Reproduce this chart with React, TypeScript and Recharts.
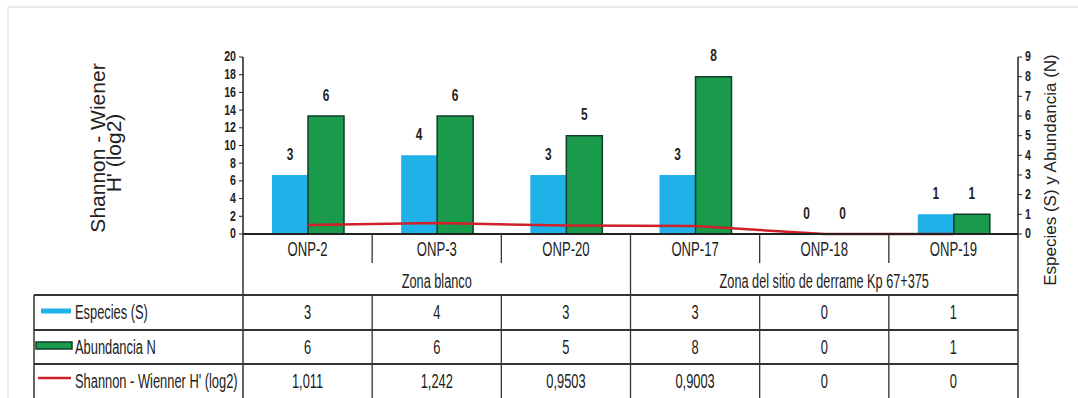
import { ComposedChart, Bar, Line, XAxis, YAxis, LabelList } from 'recharts'

const categories = ['ONP-2', 'ONP-3', 'ONP-20', 'ONP-17', 'ONP-18', 'ONP-19']
const especies = [3, 4, 3, 3, 0, 1]
const abundancia = [6, 6, 5, 8, 0, 1]
const shannon = [1.011, 1.242, 0.9503, 0.9003, 0, 0]
const zoneNames = ['Zona blanco', 'Zona del sitio de derrame Kp 67+375']
const zoneSpans = [3, 3]
const leftTicks = [0, 2, 4, 6, 8, 10, 12, 14, 16, 18, 20]
const rightTicks = [0, 1, 2, 3, 4, 5, 6, 7, 8, 9]

const W = 1078
const H = 398
const PLOT_L = 243
const PLOT_R = 1018
const PLOT_T = 57
const AXIS_Y = 234
const COL_W = (PLOT_R - PLOT_L) / categories.length

const SANS = "'Liberation Sans', Arial, sans-serif"
const INK = '#222'
const LINE = '#333'
const BLUE = '#20b1e8'
const GREEN = '#1a9a4b'
const GREEN_EDGE = '#123d2c'
const RED = '#d0202a'

const data = categories.map((c, i) => ({
  cat: c,
  especies: especies[i],
  abundancia: abundancia[i],
  shannon: shannon[i],
}))

const fmtComma = (v: number) => String(v).replace('.', ',')

// texto estrecho y estirado en vertical, como en el escaneo
function SText({ x, y, children, size = 16, anchor = 'middle', weight = 400, sx = 0.82, sy = 1.3 }: any) {
  return (
    <text
      transform={`translate(${x},${y}) scale(${sx},${sy})`}
      textAnchor={anchor}
      dominantBaseline='central'
      fontSize={size}
      fontFamily={SANS}
      fontWeight={weight}
      fill={INK}
    >
      {children}
    </text>
  )
}

const CategoryTick = ({ x, y, payload }: any) => (
  <SText x={x} y={y + 15}>{payload.value}</SText>
)

const NumTick = ({ x, y, payload, textAnchor }: any) => (
  <SText x={x} y={y} size={12.5} weight={700} anchor={textAnchor} sx={0.85} sy={1.1}>{payload.value}</SText>
)

const BarValue = ({ x, y, width, value }: any) => (
  <SText x={x + width / 2} y={y - 21} size={14} weight={700} sx={0.85} sy={1.2}>{value}</SText>
)

const colX = (i: number) => PLOT_L + i * COL_W
const colMid = (i: number) => PLOT_L + (i + 0.5) * COL_W

const ROW_LINES = [295, 330, 364]
const ROW_MID = [312.5, 347, 381]

function Table() {
  const rows = [
    { label: 'Especies (S)', values: especies.map(String) },
    { label: 'Abundancia N', values: abundancia.map(String) },
    { label: "Shannon - Wienner H' (log2)", values: shannon.map(fmtComma) },
  ]
  let start = 0
  const zones = zoneNames.map((name, k) => {
    const z = { name, from: start, to: start + zoneSpans[k] }
    start += zoneSpans[k]
    return z
  })
  return (
    <svg width={W} height={H} style={{ position: 'absolute', left: 0, top: 0, pointerEvents: 'none' }}>
      {/* marco del escaneo */}
      <line x1={8} y1={7} x2={W} y2={7} stroke='#d4d4d4' strokeWidth={1} />
      <line x1={8} y1={7} x2={8} y2={H} stroke='#dcdcdc' strokeWidth={1} />

      {/* separadores de categorías */}
      {categories.slice(1).map((_, i) => (
        <line key={'s' + i} x1={colX(i + 1)} y1={AXIS_Y} x2={colX(i + 1)} y2={263} stroke={LINE} strokeWidth={1.3} />
      ))}
      {/* separadores de zonas */}
      {zones.slice(1).map((z, i) => (
        <line key={'z' + i} x1={colX(z.from)} y1={263} x2={colX(z.from)} y2={295} stroke={LINE} strokeWidth={1.3} />
      ))}
      {zones.map((z, i) => (
        <SText key={'zt' + i} x={(colX(z.from) + colX(z.to)) / 2} y={281} size={15.5}>{z.name}</SText>
      ))}

      {/* bordes */}
      <line x1={PLOT_L} y1={AXIS_Y} x2={PLOT_L} y2={H} stroke={LINE} strokeWidth={1.5} />
      <line x1={PLOT_R} y1={AXIS_Y} x2={PLOT_R} y2={H} stroke={LINE} strokeWidth={1.5} />
      <line x1={34} y1={295} x2={34} y2={H} stroke={LINE} strokeWidth={1.5} />
      {ROW_LINES.map((y, i) => (
        <line key={'h' + i} x1={34} y1={y} x2={PLOT_R} y2={y} stroke={LINE} strokeWidth={2} />
      ))}
      {categories.slice(1).map((_, i) => (
        <line key={'v' + i} x1={colX(i + 1)} y1={295} x2={colX(i + 1)} y2={H} stroke={LINE} strokeWidth={1.3} />
      ))}

      {/* leyenda */}
      <rect x={41} y={ROW_MID[0] - 4} width={30} height={5} fill={BLUE} />
      <rect x={36} y={ROW_MID[1] - 5} width={36} height={7} fill={GREEN} stroke={GREEN_EDGE} strokeWidth={1.5} />
      <line x1={38} y1={ROW_MID[2] - 3} x2={71} y2={ROW_MID[2] - 3} stroke={RED} strokeWidth={2.5} />

      {rows.map((r, ri) => (
        <g key={'r' + ri}>
          <SText x={75} y={ROW_MID[ri]} anchor='start' size={15.7}>{r.label}</SText>
          {r.values.map((v, ci) => (
            <SText key={ci} x={colMid(ci)} y={ROW_MID[ri]} size={15.7}>{v}</SText>
          ))}
        </g>
      ))}

      {/* títulos de ejes */}
      <text transform='translate(97,148) rotate(-90)' textAnchor='middle' dominantBaseline='central'
        fontSize={21} fontFamily={SANS} fill={INK}>Shannon - Wiener</text>
      <text transform="translate(113,153) rotate(-90)" textAnchor='middle' dominantBaseline='central'
        fontSize={21} fontFamily={SANS} fill={INK}>H' (log2)</text>
      <text transform='translate(1050,170) rotate(-90)' textAnchor='middle' dominantBaseline='central'
        fontSize={17} fontFamily={SANS} fill={INK}>Especies (S) y Abundancia (N)</text>
    </svg>
  )
}

export default function App() {
  return (
    <div style={{ position: 'absolute', left: 0, top: 0, width: W, height: H, background: '#fff' }}>
      <ComposedChart
        width={W}
        height={H}
        data={data}
        margin={{ top: PLOT_T, right: 0, left: 0, bottom: H - AXIS_Y - 30 }}
        barGap={0}
        barSize={36}
      >
        <XAxis
          dataKey='cat'
          height={30}
          tickLine={false}
          tickSize={0}
          tickMargin={0}
          axisLine={{ stroke: INK, strokeWidth: 2 }}
          tick={<CategoryTick />}
          interval={0}
        />
        <YAxis
          yAxisId='left'
          width={PLOT_L}
          domain={[0, 20]}
          ticks={leftTicks}
          interval={0}
          tick={<NumTick />}
          tickSize={4}
          tickMargin={3}
          axisLine={{ stroke: INK, strokeWidth: 1.5 }}
          tickLine={{ stroke: INK }}
        />
        <YAxis
          yAxisId='right'
          orientation='right'
          width={W - PLOT_R}
          domain={[0, 9]}
          ticks={rightTicks}
          interval={0}
          tick={<NumTick />}
          tickSize={4}
          tickMargin={3}
          axisLine={{ stroke: INK, strokeWidth: 1.5 }}
          tickLine={{ stroke: INK }}
        />
        <Bar yAxisId='right' dataKey='especies' fill={BLUE} minPointSize={0.01} isAnimationActive={false}>
          <LabelList dataKey='especies' content={<BarValue />} />
        </Bar>
        <Bar yAxisId='right' dataKey='abundancia' fill={GREEN} stroke={GREEN_EDGE} strokeWidth={1.5} minPointSize={0.01} isAnimationActive={false}>
          <LabelList dataKey='abundancia' content={<BarValue />} />
        </Bar>
        <Line
          yAxisId='left'
          dataKey='shannon'
          type='linear'
          stroke={RED}
          strokeWidth={2.5}
          dot={false}
          activeDot={false}
          isAnimationActive={false}
        />
      </ComposedChart>
      <Table />
    </div>
  )
}
